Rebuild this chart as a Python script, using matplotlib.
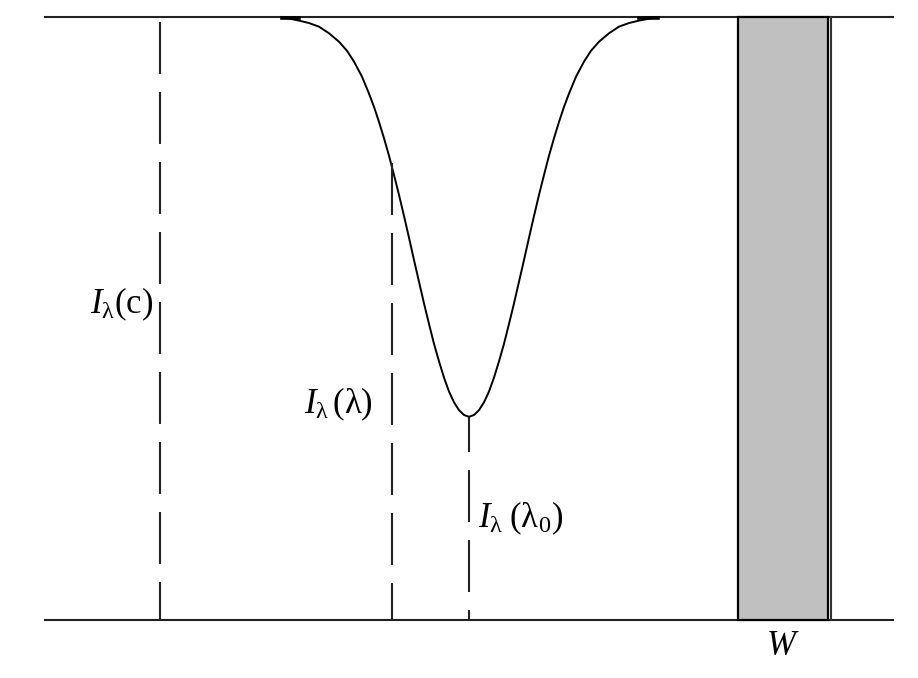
import matplotlib
matplotlib.use('Agg')
import matplotlib.pyplot as plt
from matplotlib.patches import Rectangle

plt.rcParams['mathtext.fontset'] = 'custom'
plt.rcParams['mathtext.rm'] = 'Liberation Serif'
plt.rcParams['mathtext.it'] = 'Liberation Serif:italic'
plt.rcParams['lines.scale_dashes'] = False

# wavelength (arbitrary units) and normalised intensity of the line profile
wavelength = [282, 299, 309, 319, 329, 339, 347, 354, 362, 369, 374, 379, 384, 389, 394, 399,
              404, 409, 414, 419, 424, 429, 434, 439, 444, 449, 454, 459, 464,
              469, 474, 479, 484, 489, 494, 499, 504, 509, 514, 519, 524, 529, 534,
              539, 544, 549, 554, 559, 564, 569, 576, 584, 591, 599, 609, 619, 629, 639, 658]
intensity = [1.0, 0.994, 0.990, 0.984, 0.973, 0.959, 0.944, 0.926, 0.901, 0.873, 0.851,
             0.826, 0.799, 0.770, 0.738, 0.705, 0.670, 0.634, 0.597, 0.561, 0.525,
             0.491, 0.458, 0.429, 0.402, 0.379, 0.361, 0.348, 0.340,
             0.337, 0.340, 0.348, 0.361, 0.379, 0.402, 0.429, 0.458, 0.491, 0.525,
             0.561, 0.597, 0.634, 0.670, 0.705, 0.738, 0.770, 0.799, 0.826, 0.851,
             0.873, 0.901, 0.926, 0.944, 0.959, 0.973, 0.984, 0.990, 0.994, 1.0]

continuum = 1.0
span = (45, 893)
wl_cont = 160
wl_lam = 392
wl_lam0 = 469
I_lam = 0.758
I_lam0 = 0.337
cont_dash_top = 0.992
ew_left = 738
ew_right = 828

fig = plt.figure(figsize=(9.18, 6.78), dpi=100)
ax = fig.add_axes([0, 0, 1, 1])
ax.set_xlim(0, 918)
ax.set_ylim(-58 / 603, 1 + 17 / 603)
ax.axis('off')

dark = '#222222'
dash = (0, (37.4, 13.0))

# continuum and zero level
ax.plot(span, [continuum, continuum], color=dark, lw=1.5)
ax.plot(span, [0, 0], color=dark, lw=1.5)

# equivalent width box
ax.add_patch(Rectangle((ew_left, 0), ew_right - ew_left, continuum,
                       facecolor='#c0c0c0', edgecolor='black', lw=1.6, zorder=3))
ax.plot([ew_right + 3, ew_right + 3], [0, continuum], color='#333333', lw=1.5, zorder=3)

# line profile
ax.plot(wavelength, intensity, color='black', lw=1.4)
ax.plot(wavelength[:2], [0.998, 0.998], color='black', lw=2.6)
ax.plot(wavelength[-2:], [0.998, 0.998], color='black', lw=2.6)

# dashed markers
ax.plot([wl_cont, wl_cont], [cont_dash_top, 0], color=dark, lw=1.5, ls=dash)
ax.plot([wl_lam, wl_lam], [I_lam, 0], color=dark, lw=1.5, ls=dash)
ax.plot([wl_lam0, wl_lam0], [I_lam0, 0], color=dark, lw=1.5, ls=(12.2, (37.4, 13.0)))

fs = 25
ax.text(90, 0.509, r'$I_{\mathrm{\lambda}}\mathrm{(c)}$', fontsize=fs, ha='left', va='baseline')
ax.text(304, 0.343, r'$I_{\mathrm{\lambda}}\,\mathrm{(\lambda)}$', fontsize=fs, ha='left', va='baseline')
ax.text(478, 0.154, r'$I_{\mathrm{\lambda}}\;\mathrm{(\lambda_0)}$', fontsize=fs, ha='left', va='baseline')
ax.text((ew_left + ew_right) / 2, -0.058, r'$W$', fontsize=fs, ha='center', va='baseline')

fig.savefig('out.png', dpi=100)
